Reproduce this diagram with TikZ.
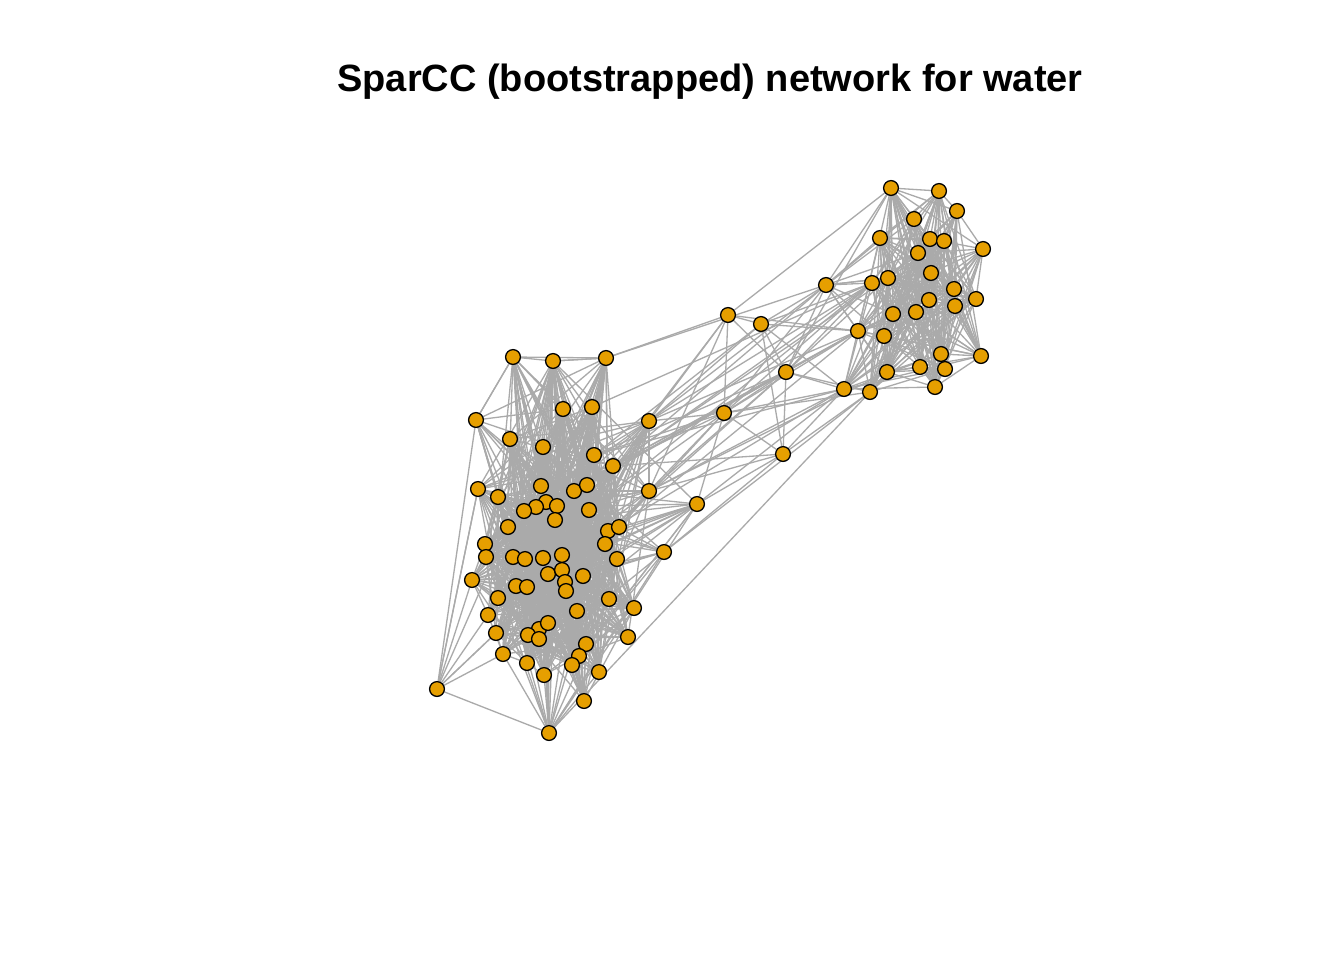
\documentclass[tikz,border=0pt]{standalone}
\usepackage{fontspec}
\newfontfamily\titlefont{Liberation Sans}
\definecolor{nodefill}{RGB}{230,159,0}
\definecolor{edgegray}{RGB}{170,170,170}
\pgfdeclarelayer{bg}
\pgfsetlayers{bg,main}
\tikzset{
  vtx/.style={circle,draw=black,fill=nodefill,line width=0.65pt,minimum size=7.4pt,inner sep=0pt},
  edge/.style={draw=edgegray,line width=0.66pt},
  titletext/.style={font=\titlefont\bfseries\fontsize{19}{23}\selectfont,anchor=base,inner sep=0pt}
}
\def\Alist{513/357/.5, 553/361/.65, 606/358/.5, 563/409/.7, 592/407/.7, 476/420/.42, 649/421/.35, 510/439/.65, 543/447/.75, 594/455/.75,
613/466/.65, 478/489/.5, 498/497/.75, 541/486/.85, 574/491/.85, 587/485/.85, 649/491/.4, 546/502/.85, 536/507/.85, 557/506/.85,
524/511/.85, 589/510/.85, 555/520/.85, 508/527/.85, 697/504/.3, 608/531/.75, 619/527/.75, 485/544/.7, 486/557/.7, 605/544/.75,
617/559/.75, 664/552/.35, 513/557/.85, 525/559/.85, 543/558/.85, 562/555/.85, 548/574/.85, 562/570/.85, 583/576/.85, 565/582/.85,
566/591/.85, 472/580/.5, 516/586/.85, 527/587/.85, 498/598/.75, 609/599/.75, 634/608/.55, 577/611/.85, 488/615/.6, 539/629/.85,
548/623/.85, 528/635/.85, 539/639/.85, 496/633/.65, 628/637/.55, 586/644/.75, 579/656/.75, 572/665/.75, 503/654/.6, 527/663/.75,
544/675/.65, 599/672/.65, 584/701/.55, 437/689/.22, 549/733/.6}
\def\Blist{891/188/.75, 939/191/.75, 957/211/.8, 914/219/.9, 880/238/.85, 930/239/.95, 944/241/.95, 983/249/.8, 918/253/.95, 931/273/.95,
888/278/.95, 872/283/.85, 954/289/.95, 976/299/.85, 929/300/.95, 955/306/.95, 916/312/.95, 893/314/.95, 858/331/.75, 884/336/.95,
941/354/.9, 981/356/.8, 887/372/.85, 920/367/.9, 945/369/.9, 935/387/.75, 844/389/.6, 870/392/.65}
\begin{document}
\begin{tikzpicture}[x=0.5pt,y=-0.5pt]
\useasboundingbox (0,0) rectangle (1344,960);
\node[titletext] (title) at (710,91) {SparCC (bootstrapped) network for water};
% nodes
\foreach [count=\k] \x/\y/\w in \Alist {
  \node[vtx] (a\k) at (\x,\y) {};
  \expandafter\xdef\csname wa\k\endcsname{\w}
}
\foreach [count=\k] \x/\y/\w in \Blist {
  \node[vtx] (b\k) at (\x,\y) {};
  \expandafter\xdef\csname wb\k\endcsname{\w}
}
\node[vtx] (h) at (826,285) {};
\node[vtx] (c1) at (728,315) {};
\node[vtx] (c2) at (761,324) {};
\node[vtx] (c3) at (786,372) {};
\node[vtx] (c4) at (724,413) {};
\node[vtx] (c5) at (783,454) {};
% edges
\begin{pgfonlayer}{bg}
\pgfmathsetseed{7}
\foreach \i in {1,...,64} {
  \pgfmathtruncatemacro\ii{\i+1}
  \edef\wi{\csname wa\i\endcsname}
  \foreach \j in {\ii,...,65} {
    \edef\wj{\csname wa\j\endcsname}
    \pgfmathtruncatemacro\ok{rnd < \wi*\wj ? 1 : 0}
    \ifnum\ok=1 \draw[edge] (a\i) -- (a\j); \fi
  }
}
\foreach \i in {1,...,27} {
  \pgfmathtruncatemacro\ii{\i+1}
  \edef\wi{\csname wb\i\endcsname}
  \foreach \j in {\ii,...,28} {
    \edef\wj{\csname wb\j\endcsname}
    \pgfmathtruncatemacro\ok{rnd < \wi*\wj ? 1 : 0}
    \ifnum\ok=1 \draw[edge] (b\i) -- (b\j); \fi
  }
}
\foreach \u/\v in {a3/c1, c1/b1, c1/c2, c1/c4, c1/a7, c1/a11, c1/b19, c1/c3, c1/a17,
  c2/h, c2/b19, c2/c3, c2/b27, c2/c5, c2/a7, c2/a10, c2/b12,
  h/b1, h/b5, h/b11, h/b12, h/b9, h/b18, h/b19, h/b20, h/b23, h/c3, h/c4, h/a7, h/a11, h/a3, h/b2, h/b4, h/b10,
  c3/b12, c3/b19, c3/b27, c3/b28, c3/b11, c3/c4, c3/c5, c3/a11, c3/a17, c3/a10, c3/a16, c3/a26, c3/a15, c3/b1,
  c4/a7, c4/a17, c4/a11, c4/a10, c4/c5, c4/b27, c4/b28, c4/a25, c4/a27, c4/a22, c4/b19, c4/b12,
  c5/a11, c5/a25, c5/b27, c5/b28, c5/a32, c5/a17,
  a65/b28, a7/b12, a7/b19, a11/b19, a10/b27, a17/b27, a16/b12, a15/b19, a25/b27, a27/b19, a32/b28,
  a26/b27, a22/b12, a5/b12, a11/b11, a17/b23,
  a1/a2, a2/a3, a1/a6, a64/a65, a64/a42, a64/a49, a64/a12, a64/a54, a64/a59, a64/a6}
  { \draw[edge] (\u) -- (\v); }
\end{pgfonlayer}
\end{tikzpicture}
\end{document}
